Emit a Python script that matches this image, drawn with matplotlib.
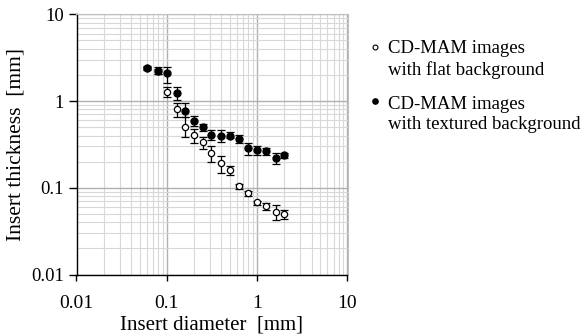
import numpy as np
import matplotlib
matplotlib.use("Agg")
import matplotlib.pyplot as plt
from matplotlib.lines import Line2D

plt.rcParams.update({
    "font.family": "Liberation Serif",
    "font.size": 14,
})

# ── Data ───────────────────────────────────────────────────────────────────────
diam = [0.06, 0.08, 0.1, 0.13, 0.16, 0.2, 0.25, 0.31, 0.4, 0.5,
        0.63, 0.8, 1.0, 1.25, 1.6, 2.0]

flat_val = [2.40, 2.20, 1.26, 0.81, 0.506, 0.405, 0.336, 0.254, 0.193, 0.160,
            0.104, 0.087, 0.068, 0.0614, 0.052, 0.0497]
flat_hi = [2.50, 2.35, 1.44, 0.94, 0.65, 0.47, 0.39, 0.30, 0.23, 0.18,
           0.110, 0.092, 0.071, 0.067, 0.063, 0.056]
flat_lo = [2.30, 2.05, 1.10, 0.66, 0.38, 0.33, 0.277, 0.20, 0.149, 0.139,
           0.098, 0.080, 0.064, 0.056, 0.042, 0.044]

tex_val = [2.42, 2.24, 2.08, 1.25, 0.77, 0.588, 0.50, 0.409, 0.398, 0.40,
           0.361, 0.284, 0.27, 0.265, 0.218, 0.238]
tex_hi = [2.52, 2.44, 2.49, 1.44, 0.94, 0.67, 0.54, 0.46, 0.46, 0.435,
          0.405, 0.33, 0.30, 0.29, 0.25, 0.254]
tex_lo = [2.32, 2.04, 1.63, 1.03, 0.65, 0.515, 0.455, 0.36, 0.34, 0.37,
          0.33, 0.238, 0.238, 0.236, 0.188, 0.22]

labels = ["CD-MAM images\nwith flat background",
          "CD-MAM images\nwith textured background"]
ticks = [0.01, 0.1, 1, 10]
tick_labels = ["0.01", "0.1", "1", "10"]


def yerr(val, lo, hi):
    v = np.array(val)
    return np.vstack([v - np.array(lo), np.array(hi) - v])


W, H = 588, 336
fig = plt.figure(figsize=(W / 100, H / 100), dpi=100)
ax = fig.add_axes([76.5 / W, 1 - 274.5 / H, (347.5 - 76.5) / W, (274.5 - 14.3) / H])

ax.errorbar(diam, flat_val, yerr=yerr(flat_val, flat_lo, flat_hi),
            fmt="o", ms=4.5, mfc="white", mec="black", mew=0.9,
            ecolor="black", elinewidth=0.9, capsize=3, capthick=0.9,
            zorder=3)
ax.errorbar(diam, tex_val, yerr=yerr(tex_val, tex_lo, tex_hi),
            fmt="o", ms=5, mfc="black", mec="black",
            ecolor="black", elinewidth=0.9, capsize=3, capthick=0.9,
            zorder=4)

ax.set_xscale("log")
ax.set_yscale("log")
ax.set_xlim(0.01, 10)
ax.set_ylim(0.01, 10)
ax.set_xticks(ticks)
ax.set_xticklabels(tick_labels, fontsize=14)
ax.set_yticks(ticks)
ax.set_yticklabels(tick_labels, fontsize=13.5)
ax.tick_params(which="minor", length=0)
ax.tick_params(axis="x", which="major", direction="out", length=4.5, width=1, pad=10)
ax.tick_params(axis="y", which="major", direction="out", length=6, width=1, pad=3)

ax.grid(True, which="major", color="#b0b0b0", lw=1.0)
ax.grid(True, which="minor", color="#d8d8d8", lw=0.8)
ax.set_axisbelow(True)
for s in ("top", "right"):
    ax.spines[s].set_color("#c0c0c0")
for s in ("left", "bottom"):
    ax.spines[s].set_linewidth(1.0)

ax.set_xlabel("Insert diameter  [mm]", fontsize=15, labelpad=2.5)
ax.set_ylabel("Insert thickness  [mm]", fontsize=15.5, labelpad=4)

# ── Legend, drawn by hand (marker beside first line of each entry) ────────────
fig.add_artist(Line2D([375 / W], [1 - 47 / H], marker="o", ms=3.5, mfc="white",
                      mec="black", mew=0.8, transform=fig.transFigure))
fig.add_artist(Line2D([375 / W], [1 - 101 / H], marker="o", ms=3.8, mfc="black",
                      mec="black", transform=fig.transFigure))
fig.text(388 / W, 1 - 59.5 / H, labels[0], fontsize=13.5, va="center", ha="left",
         linespacing=1.25)
fig.text(388 / W, 1 - 114.5 / H, labels[1], fontsize=13.5, va="center", ha="left",
         linespacing=1.25)

fig.savefig("out.png", dpi=100)
